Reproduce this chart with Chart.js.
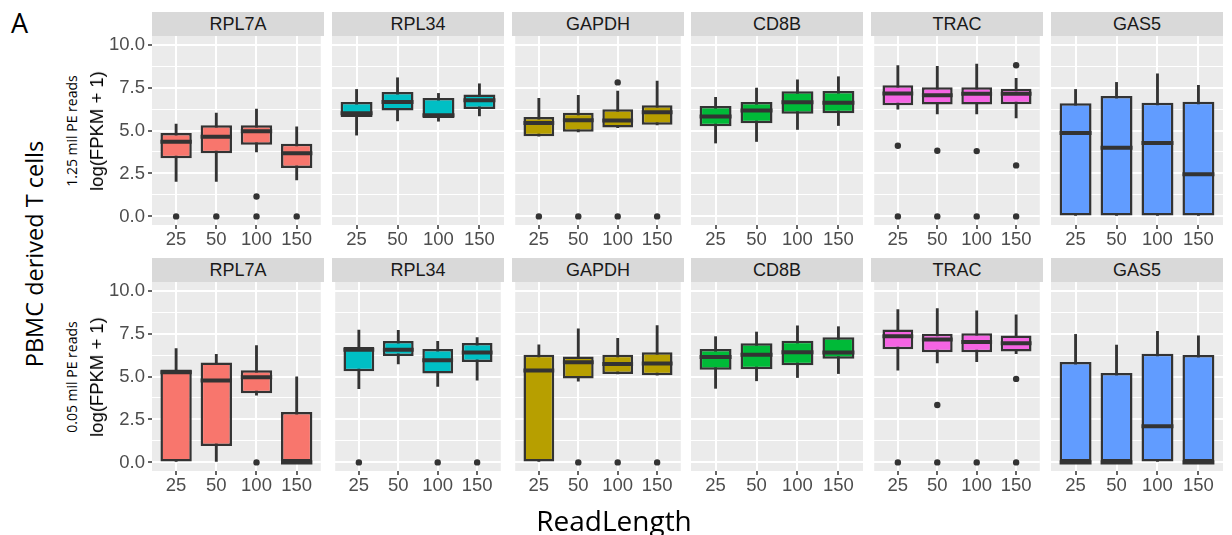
<!DOCTYPE html>
<html><head><meta charset="utf-8">
<script src="https://cdn.jsdelivr.net/npm/chart.js@4.4.1/dist/chart.umd.min.js"></script>
<style>
html,body{margin:0;padding:0;background:#fff;}
#root{position:relative;width:1232px;height:535px;overflow:hidden;font-family:"Liberation Sans",Arial,sans-serif;}
canvas{position:absolute;}
.strip{position:absolute;background:#D9D9D9;color:#1A1A1A;font-size:18px;text-align:center;height:24px;line-height:25px;}
.txt{position:absolute;white-space:nowrap;}
.rot{position:absolute;white-space:nowrap;transform:translate(-50%,-50%) rotate(-90deg);}
</style></head><body><div id="root"></div>
<script>
// ---------- DATA ----------
const genes = ['RPL7A','RPL34','GAPDH','CD8B','TRAC','GAS5'];
const readLengths = ['25','50','100','150'];
const depthLabels = ['1.25 mil PE reads','0.05 mil PE reads'];
const yTickValues = [0, 2.5, 5, 7.5, 10];
const yTickLabels = ['0.0','2.5','5.0','7.5','10.0'];
const yMinorValues = [1.25, 3.75, 6.25, 8.75];

// Row 1: 1.25 mil PE reads  (gene x read length)
const lowWhisker1 = [[2.03,2.03,3.76,2.12],[4.73,5.56,5.54,5.85],[4.67,4.92,5.17,5.33],[4.27,4.36,5.06,5.29],[6.24,5.97,5.97,5.73],[0,0,0,0]];
const lowerQ1     = [[3.38,3.67,4.17,2.82],[5.79,6.16,5.73,6.25],[4.67,4.92,5.17,5.33],[5.25,5.42,5.98,6.00],[6.47,6.51,6.51,6.53],[0,0,0,0]];
const median1     = [[4.34,4.63,4.96,3.67],[6.00,6.66,5.89,6.76],[5.44,5.60,5.58,6.06],[5.81,6.16,6.64,6.62],[7.16,7.05,7.14,7.14],[4.86,4.00,4.27,2.45]];
const upperQ1     = [[4.85,5.31,5.31,4.23],[6.66,7.24,6.89,7.10],[5.79,6.04,6.24,6.47],[6.43,6.66,7.28,7.30],[7.63,7.51,7.51,7.43],[6.58,7.01,6.62,6.68]];
const highWhisker1= [[5.37,6.02,6.24,5.21],[7.39,8.07,7.16,7.72],[6.87,7.05,7.30,7.88],[6.93,7.47,7.95,8.13],[8.78,8.73,8.86,8.03],[7.39,7.80,8.30,7.63]];
const outliers1   = [[[0],[0],[1.16,0],[0]],[[],[],[],[]],[[0],[0],[7.80,0],[0]],[[],[],[],[]],[[4.11,0],[3.82,0],[3.80,0],[8.80,2.97,0]],[[],[],[],[]]];

// Row 2: 0.05 mil PE reads
const lowWhisker2 = [[0,0,3.92,0],[4.29,5.73,4.42,4.79],[0,4.73,5.15,5.08],[4.31,4.75,4.94,5.17],[5.37,5.79,5.87,6.33],[0,0,0,0]];
const lowerQ2     = [[0,0.95,4.02,0],[5.31,6.20,5.17,5.85],[0,4.88,5.15,5.08],[5.39,5.42,5.66,6.04],[6.58,6.41,6.41,6.45],[0,0,0,0]];
const median2     = [[5.25,4.77,4.96,0],[6.56,6.56,5.95,6.39],[5.35,5.83,5.73,5.75],[6.14,6.27,6.41,6.39],[7.34,7.16,7.01,6.93],[0,0,2.10,0]];
const upperQ2     = [[5.41,5.81,5.37,2.93],[6.72,7.07,6.60,6.95],[6.27,6.16,6.27,6.41],[6.60,6.93,7.08,7.28],[7.74,7.49,7.51,7.39],[5.85,5.21,6.33,6.25]];
const highWhisker2= [[6.62,6.29,6.80,4.98],[7.70,7.68,7.05,7.26],[6.85,7.78,7.22,7.97],[7.32,7.59,7.95,7.90],[8.90,8.96,8.82,8.59],[7.45,6.83,7.63,7.37]];
const outliers2   = [[[],[],[0],[]],[[0],[],[0],[0]],[[],[0],[0],[0]],[[],[],[],[]],[[0],[3.34,0],[0],[4.86,0]],[[],[],[],[]]];

// ---------- STYLE / LAYOUT ----------
const geneColors = ['#F8766D','#00BFC4','#B79F00','#00BA38','#F564E3','#619CFF'];
const rows = [
  {lo:lowWhisker1, q1:lowerQ1, med:median1, q3:upperQ1, hi:highWhisker1, out:outliers1},
  {lo:lowWhisker2, q1:lowerQ2, med:median2, q3:upperQ2, hi:highWhisker2, out:outliers2}
];
const PL = [152, 332, 512, 691, 871, 1051];
const PW = 172;
const PT = [36, 282];
const PH = 189;
const STRIP_H = 24;
const FONT = '"Liberation Sans", Arial, sans-serif';
const root = document.getElementById('root');
const yGridValues = yTickValues.concat(yMinorValues).sort((a,b)=>a-b);
const isMajor = v => yTickValues.indexOf(v) >= 0;

function addDiv(cls, text, css) {
  const d = document.createElement('div');
  d.className = cls; d.textContent = text;
  Object.assign(d.style, css);
  root.appendChild(d);
  return d;
}

const bgPlugin = {
  id: 'panelBg',
  beforeDraw(chart) {
    const a = chart.chartArea, c = chart.ctx;
    c.save(); c.fillStyle = '#EBEBEB';
    c.fillRect(a.left, a.top, a.right - a.left, a.bottom - a.top);
    c.restore();
  }
};

function makePanel(r, g) {
  const first = g === 0;
  const yW = first ? 48 : 0;
  const padTop = 10;
  const xH = 34;
  const w = yW + PW, h = padTop + PH + xH;
  const cv = document.createElement('canvas');
  cv.width = w; cv.height = h;
  Object.assign(cv.style, {left:(PL[g]-yW)+'px', top:(PT[r]-padTop)+'px', width:w+'px', height:h+'px'});
  root.appendChild(cv);

  const S = rows[r];
  const boxData = readLengths.map((_, i) => ({x:i+1, y:[S.q1[g][i], S.q3[g][i]]}));
  const whiskData = readLengths.map((_, i) => ({x:i+1, y:[S.lo[g][i], S.hi[g][i]]}));
  const outData = [];
  S.out[g].forEach((arr, i) => arr.forEach(v => outData.push({x:i+1, y:v})));
  const meds = S.med[g];

  const medianPlugin = {
    id: 'medians',
    afterDatasetsDraw(chart) {
      const meta = chart.getDatasetMeta(1);
      const ys = chart.scales.y, c = chart.ctx, a = chart.chartArea;
      c.save();
      c.beginPath(); c.rect(a.left, a.top, a.right - a.left, a.bottom - a.top); c.clip();
      c.strokeStyle = '#333333'; c.lineWidth = 4; c.lineCap = 'butt';
      meta.data.forEach((el, i) => {
        const y = ys.getPixelForValue(meds[i]);
        c.beginPath(); c.moveTo(el.x - el.width/2, y); c.lineTo(el.x + el.width/2, y); c.stroke();
      });
      c.restore();
    }
  };

  new Chart(cv, {
    type: 'bar',
    data: { datasets: [
      {type:'line', data:outData, showLine:false, pointRadius:3.2, pointHoverRadius:3.2,
       pointBackgroundColor:'#333333', pointBorderWidth:0, order:0},
      {data:boxData, backgroundColor:geneColors[g], borderColor:'#333333', borderWidth:2.5,
       borderSkipped:false, grouped:false, categoryPercentage:0.78, barPercentage:1, order:1},
      {data:whiskData, backgroundColor:'#333333', borderWidth:0, barThickness:2.2, grouped:false, order:2}
    ]},
    options: {
      responsive:false, animation:false, devicePixelRatio:1, events:[],
      layout:{padding:{top:padTop, left:0, right:0, bottom:0}},
      plugins:{legend:{display:false}, tooltip:{enabled:false}},
      scales: {
        x: {
          type:'linear', min:0.4, max:4.6, offset:false,
          afterBuildTicks: s => { s.ticks = readLengths.map((_, i) => ({value:i+1})); },
          afterFit: s => { s.height = xH; s.paddingLeft = 0; s.paddingRight = 0; s.paddingTop = 0; s.paddingBottom = 0; },
          ticks:{callback:(v, i) => readLengths[i], color:'#4D4D4D', font:{family:FONT, size:18.5},
                 padding:0, autoSkip:false, maxRotation:0, minRotation:0},
          grid:{color:'#FFFFFF', lineWidth:2, drawTicks:true, tickLength:4, tickColor:'#333333', tickWidth:1.5, offset:false},
          border:{display:false}
        },
        y: {
          type:'linear', min:-0.5, max:10.5,
          afterBuildTicks: s => { s.ticks = yGridValues.map(v => ({value:v})); },
          afterFit: s => { s.width = yW; s.paddingLeft = 0; s.paddingRight = 0; s.paddingTop = 0; s.paddingBottom = 0; },
          ticks:{display:first, color:'#4D4D4D', font:{family:FONT, size:18.5}, padding:3, autoSkip:false,
                 callback:v => { const k = yTickValues.indexOf(v); return k >= 0 ? yTickLabels[k] : ''; }},
          grid:{color:'#FFFFFF', drawTicks:first, tickLength:4, tickWidth:1.5,
                lineWidth: ctx => (ctx.tick && isMajor(ctx.tick.value)) ? 2 : 1,
                tickColor: ctx => (ctx.tick && isMajor(ctx.tick.value)) ? '#333333' : 'rgba(0,0,0,0)'},
          border:{display:false}
        }
      }
    },
    plugins:[bgPlugin, medianPlugin]
  });
}

for (let r = 0; r < 2; r++) {
  for (let g = 0; g < genes.length; g++) {
    addDiv('strip', genes[g], {left:PL[g]+'px', top:(PT[r]-STRIP_H)+'px', width:PW+'px'});
    makePanel(r, g);
  }
  const cy = PT[r] + PH/2;
  addDiv('rot', depthLabels[r], {left:'71px', top:cy+'px', fontFamily:'"Open Sans", sans-serif', fontSize:'14px', color:'#000'});
  addDiv('rot', 'log(FPKM + 1)', {left:'97px', top:cy+'px', fontFamily:FONT, fontSize:'18.5px', color:'#000'});
}
addDiv('rot', 'PBMC derived T cells', {left:'34px', top:'254px', fontFamily:'"Open Sans", sans-serif', fontSize:'23.5px', color:'#000'});
addDiv('txt', 'A', {left:'11px', top:'9px', fontFamily:'"Open Sans", sans-serif', fontSize:'27px', lineHeight:'27px', color:'#000'});
addDiv('txt', 'ReadLength', {left:'614px', top:'506px', transform:'translateX(-50%)', fontFamily:'"Open Sans", sans-serif', fontSize:'28px', lineHeight:'28px', color:'#000'});
</script></body></html>
